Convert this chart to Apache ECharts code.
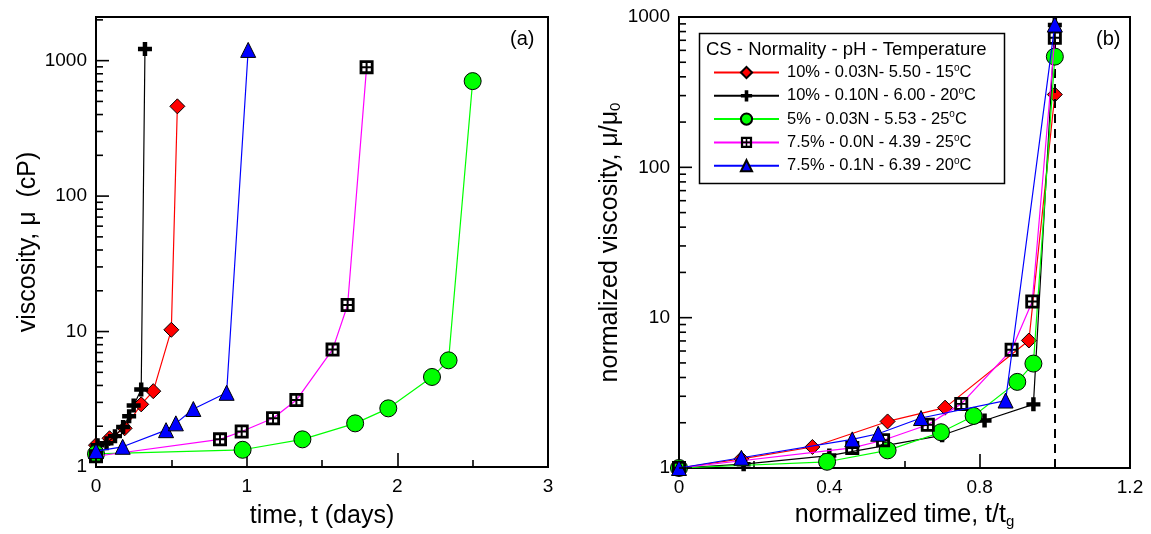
<!DOCTYPE html>
<html>
<head>
<meta charset="utf-8">
<script src="https://cdn.jsdelivr.net/npm/echarts@6/dist/echarts.min.js"></script>
<style>
html,body{margin:0;padding:0;background:#fff;}
#c{width:1151px;height:534px;}
</style>
</head>
<body>
<div id="c"></div>
<script>
// ---------- DATA ----------
const seriesNames = [
  '10% - 0.03N- 5.50 - 15{sup|o}C',
  '10% - 0.10N - 6.00 - 20{sup|o}C',
  '5% - 0.03N - 5.53 - 25{sup|o}C',
  '7.5% - 0.0N - 4.39 - 25{sup|o}C',
  '7.5% - 0.1N - 6.39 - 20{sup|o}C'
];
const legendTitle = 'CS - Normality - pH - Temperature';

// Panel (a): time (days) vs viscosity (cP)
const aRed     = [[0,1.45],[0.09,1.63],[0.19,1.93],[0.30,2.9],[0.38,3.63],[0.50,10.3],[0.54,460]];
const aBlack   = [[0.01,1.45],[0.07,1.5],[0.126,1.69],[0.18,1.97],[0.22,2.37],[0.25,2.85],[0.30,3.74],[0.325,1220]];
const aGreen   = [[0,1.25],[0.973,1.34],[1.37,1.6],[1.72,2.1],[1.94,2.71],[2.23,4.62],[2.34,6.13],[2.50,706]];
const aMagenta = [[0,1.2],[0.823,1.6],[0.967,1.83],[1.175,2.29],[1.33,3.12],[1.57,7.36],[1.67,15.7],[1.796,895]];
const aBlue    = [[0,1.31],[0.177,1.41],[0.465,1.87],[0.53,2.1],[0.646,2.68],[0.867,3.53],[1.01,1200]];

// Panel (b): normalized time vs normalized viscosity
const bRed     = [[0,1],[0.166,1.15],[0.355,1.38],[0.555,2.04],[0.708,2.52],[0.931,7.05],[1,305]];
const bBlack   = [[0,1],[0.172,1.06],[0.40,1.21],[0.70,1.65],[0.813,2.07],[0.943,2.65],[1,885]];
const bGreen   = [[0,1],[0.394,1.1],[0.555,1.31],[0.697,1.73],[0.784,2.22],[0.90,3.74],[0.943,4.95],[1,545]];
const bMagenta = [[0,1],[0.461,1.36],[0.543,1.53],[0.662,1.94],[0.751,2.67],[0.885,6.12],[0.94,12.8],[1,727]];
const bBlue    = [[0,1],[0.166,1.17],[0.461,1.55],[0.53,1.69],[0.644,2.15],[0.869,2.81],[1,890]];

const gelLine = 1; // t/tg = 1

// tick values
const majorLogTicks = [1,10,100,1000];
const minorLogTicks = [2,3,4,5,6,7,8,9,20,30,40,50,60,70,80,90,200,300,400,500,600,700,800,900];
const minorLogTicksA = minorLogTicks.concat([2000]);

// ---------- STYLE ----------
const FONT = '"Liberation Sans", Arial, sans-serif';
const crossPath = 'path://M3.4,0H6.6V3.4H10V6.6H6.6V10H3.4V6.6H0V3.4H3.4Z';
const gridSqPath = 'path://M0,0H10V10H0Z M2,2V4.3H4.3V2Z M5.7,2V4.3H8V2Z M2,5.7V8H4.3V5.7Z M5.7,5.7V8H8V5.7Z';
const symbols = [
  {symbol:'diamond', symbolSize:15, itemStyle:{color:'#ff0000', borderColor:'#000', borderWidth:1}},
  {symbol:crossPath, symbolSize:14, itemStyle:{color:'#000', borderWidth:0}},
  {symbol:'circle', symbolSize:17, itemStyle:{color:'#00ff00', borderColor:'#000', borderWidth:1}},
  {symbol:gridSqPath, symbolSize:14, itemStyle:{color:'#000', borderWidth:0}},
  {symbol:'triangle', symbolSize:15, itemStyle:{color:'#0000ff', borderColor:'#000', borderWidth:1}}
];
const lineColors = ['#ff0000','#000000','#00ff00','#ff00ff','#0000ff'];

function mkSeries(data, i, gi) {
  return Object.assign({
    type:'line', name: seriesNames[i], data: data,
    xAxisIndex: gi, yAxisIndex: gi,
    lineStyle:{color: lineColors[i], width:1.2},
    showAllSymbol: true, animation:false, z: 3 + i
  }, symbols[i]);
}

const axisLabelStyle = {color:'#000', fontFamily:FONT, fontSize:19};
const nameStyle = {color:'#000', fontFamily:FONT, fontSize:25,
  rich:{ sub:{fontSize:15, fontFamily:FONT, color:'#000', padding:[12,0,0,0]} }};
const logFmt = v => (majorLogTicks.indexOf(Math.round(v)) >= 0 ? String(Math.round(v)) : '');

const staticGraphics = [
  {type:'rect', left:697, top:31, shape:{width:305, height:150}, style:{fill:'none', stroke:'#000', lineWidth:1.5}, z:1},
  {type:'text', left:706, top:40, style:{text:legendTitle, fill:'#000', font:'18.5px ' + FONT}, z:20},
  {type:'text', left:510, top:29, style:{text:'(a)', fill:'#000', font:'20px ' + FONT}},
  {type:'text', left:1096, top:29, style:{text:'(b)', fill:'#000', font:'20px ' + FONT}}
];

const option = {
  backgroundColor:'#fff',
  animation:false,
  textStyle:{fontFamily:FONT},
  grid:[
    {left:96, right:603, top:17, bottom:65, show:true, borderColor:'#000', borderWidth:2},
    {left:679, right:21, top:17, bottom:62, show:true, borderColor:'#000', borderWidth:2}
  ],
  xAxis:[
    {gridIndex:0, type:'value', min:0, max:3, interval:1,
     name:'time, t (days)', nameLocation:'middle', nameGap:37, nameTextStyle:nameStyle,
     axisLine:{lineStyle:{color:'#000', width:2}},
     axisTick:{show:true, inside:true, length:14, lineStyle:{color:'#000', width:1.6}},
     minorTick:{show:true, splitNumber:2, length:7, lineStyle:{color:'#000', width:1.6}},
     splitLine:{show:false}, axisLabel:Object.assign({margin:10}, axisLabelStyle)},
    {gridIndex:1, type:'value', min:0, max:1.2, interval:0.4,
     name:'normalized time, t/t{sub|g}', nameLocation:'middle', nameGap:34, nameTextStyle:nameStyle,
     axisLine:{lineStyle:{color:'#000', width:2}},
     axisTick:{show:true, inside:true, length:14, lineStyle:{color:'#000', width:1.6}},
     minorTick:{show:true, splitNumber:2, length:7, lineStyle:{color:'#000', width:1.6}},
     splitLine:{show:false}, axisLabel:Object.assign({margin:10}, axisLabelStyle)}
  ],
  yAxis:[
    {gridIndex:0, type:'log', logBase:10, min:1, max:2100,
     name:'viscosity, μ  (cP)', nameLocation:'middle', nameGap:53, nameTextStyle:nameStyle,
     axisLine:{lineStyle:{color:'#000', width:2}},
     axisTick:{show:false}, splitLine:{show:false},
     axisLabel:Object.assign({margin:9, showMaxLabel:false, formatter:logFmt}, axisLabelStyle)},
    {gridIndex:1, type:'log', logBase:10, min:1, max:1000,
     name:'normalized viscosity, μ/μ{sub|0}', nameLocation:'middle', nameGap:52, nameTextStyle:nameStyle,
     axisLine:{lineStyle:{color:'#000', width:2}},
     axisTick:{show:false}, splitLine:{show:false},
     axisLabel:Object.assign({margin:9, formatter:logFmt}, axisLabelStyle)}
  ],
  legend:{
    left:708, top:58, orient:'vertical', itemWidth:65, itemHeight:14, itemGap:4.8,
    data: seriesNames,
    textStyle:{color:'#000', fontFamily:FONT, fontSize:16.5, lineHeight:18, padding:[0,0,0,3],
      rich:{sup:{fontSize:10, fontFamily:FONT, color:'#000', padding:[0,0,9,0]}}},
    selectedMode:false
  },
  graphic: staticGraphics,
  series:[]
};

[aRed,aBlack,aGreen,aMagenta,aBlue].forEach((d,i)=>option.series.push(mkSeries(d,i,0)));
const bs = [bRed,bBlack,bGreen,bMagenta,bBlue].map((d,i)=>mkSeries(d,i,1));
bs[0].markLine = {silent:true, symbol:'none', label:{show:false}, animation:false,
  lineStyle:{color:'#000', type:[9,6], width:2}, data:[{xAxis:gelLine}]};
bs.forEach(s=>option.series.push(s));

const chart = echarts.init(document.getElementById('c'), null, {renderer:'canvas'});
chart.setOption(option);

// inward y ticks on the log axes, positioned through the axes' own scales
const tickGraphics = [];
function addYTicks(gi, xmin, vals, len) {
  vals.forEach(v => {
    const p = chart.convertToPixel({gridIndex: gi}, [xmin, v]);
    if (!p || !isFinite(p[0]) || !isFinite(p[1])) return;
    tickGraphics.push({type:'line', silent:true, z:50,
      shape:{x1:p[0], y1:p[1], x2:p[0] + len, y2:p[1]}, style:{stroke:'#000', lineWidth:1.6}});
  });
}
addYTicks(0, 0, majorLogTicks, 13);
addYTicks(0, 0, minorLogTicksA, 7);
addYTicks(1, 0, majorLogTicks, 13);
addYTicks(1, 0, minorLogTicks, 7);
chart.setOption({graphic: staticGraphics.concat(tickGraphics)});
</script>
</body>
</html>
